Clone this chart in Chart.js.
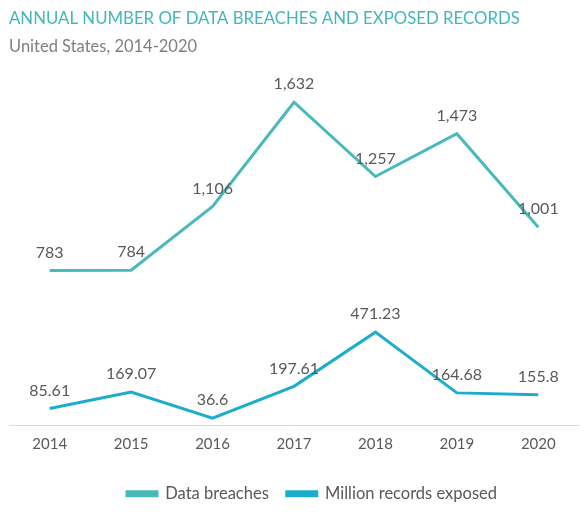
<!DOCTYPE html>
<html>
<head>
<meta charset="utf-8">
<script src="https://cdn.jsdelivr.net/npm/chart.js@4"></script>
<style>
  html, body { margin: 0; padding: 0; background: #ffffff; }
  #wrap { width: 586px; height: 514px; }
</style>
</head>
<body>
<div id="wrap"><canvas id="breachChart"></canvas></div>
<script>
const years = ['2014', '2015', '2016', '2017', '2018', '2019', '2020'];
const breaches = [783, 784, 1106, 1632, 1257, 1473, 1001];
const recordsExposed = [85.61, 169.07, 36.6, 197.61, 471.23, 164.68, 155.8];

const TEAL = '#49b9bb';
const CYAN = '#1badcb';
const GREY = '#595959';

// values written just above every point
const valueLabels = {
    id: 'valueLabels',
    afterDatasetsDraw(chart) {
        const c = chart.ctx;
        c.save();
        c.font = '16px Lato';
        c.fillStyle = GREY;
        c.textAlign = 'center';
        c.textBaseline = 'middle';
        chart.data.datasets.forEach((ds, i) => {
            chart.getDatasetMeta(i).data.forEach((pt, j) => {
                const v = ds.data[j];
                const txt = i === 0 ? v.toLocaleString('en-US') : String(v);
                c.fillText(txt, pt.x, pt.y - 18);
            });
        });
        c.restore();
    }
};

// legend sits a bit right of centre in the original
const nudgeLegend = {
    id: 'nudgeLegend',
    afterLayout(chart) {
        chart.legend.left += 18;
        chart.legend.right += 18;
    }
};

const ctx = document.getElementById('breachChart').getContext('2d');
const breachChart = new Chart(ctx, {
    type: 'line',
    data: {
        labels: years,
        datasets: [{
            label: 'Data breaches',
            data: breaches,
            borderColor: TEAL,
            backgroundColor: TEAL,
            borderWidth: 3,
            pointRadius: 0,
            tension: 0
        }, {
            label: 'Million records exposed',
            data: recordsExposed,
            borderColor: CYAN,
            backgroundColor: CYAN,
            borderWidth: 3,
            pointRadius: 0,
            tension: 0
        }]
    },
    options: {
        responsive: true,
        maintainAspectRatio: false,
        animation: false,
        layout: { padding: { left: 9, right: 7, top: 0, bottom: 2 } },
        scales: {
            x: {
                offset: true,
                grid: { display: false },
                border: { color: '#d9d9d9', width: 1 },
                ticks: { color: GREY, font: { family: 'Lato', size: 15 }, padding: 2 },
                afterFit(scale) { scale.height += 12; }
            },
            y: {
                display: false,
                min: 0,
                max: 1800
            }
        },
        plugins: {
            title: {
                display: true,
                text: 'ANNUAL NUMBER OF DATA BREACHES AND EXPOSED RECORDS',
                align: 'start',
                color: '#42b7bb',
                font: { family: 'Lato', size: 16.8, weight: 'normal' },
                padding: { top: 9, bottom: 6 }
            },
            subtitle: {
                display: true,
                text: 'United States, 2014-2020',
                align: 'start',
                color: '#7f7f7f',
                font: { family: 'Lato', size: 16.5 },
                padding: { top: 2, bottom: 12 }
            },
            legend: {
                position: 'bottom',
                labels: {
                    color: GREY,
                    font: { family: 'Lato', size: 16.5 },
                    boxWidth: 30,
                    boxHeight: 4,
                    padding: 18
                }
            },
            tooltip: { enabled: false }
        }
    },
    plugins: [valueLabels, nudgeLegend]
});
</script>
</body>
</html>
